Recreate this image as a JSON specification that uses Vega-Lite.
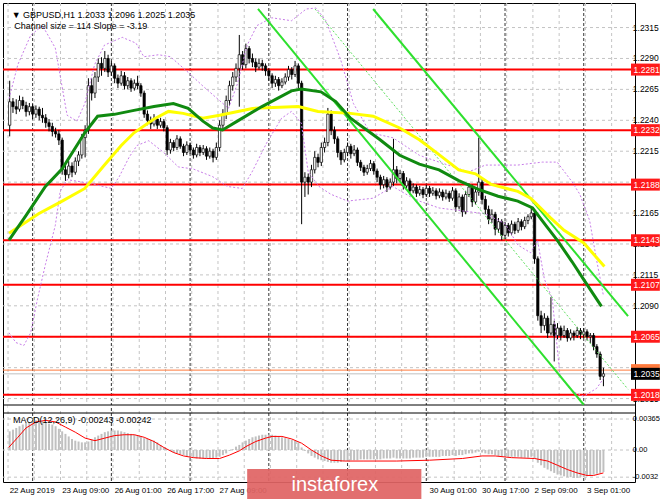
{
"$schema":"https://vega.github.io/schema/vega-lite/v6.json",
"padding":{"left":2,"top":2,"right":0,"bottom":0},
"background":"white",
"width":632,"height":479,
"config":{"font":"Liberation Sans","view":{"stroke":"#000","strokeWidth":1},"axis":{"labelFont":"Liberation Sans","labelFontSize":8,"labelColor":"#000","tickColor":"#000","domainColor":"#000","gridColor":"#c4c4c4","gridDash":[3,3],"gridWidth":1}},
"datasets":{
"vg":[{"i":-0.5},{"i":7.5},{"i":15.5},{"i":23.5},{"i":31.5},{"i":39.5},{"i":47.5},{"i":55.5},{"i":63.5},{"i":71.5},{"i":79.5},{"i":87.5},{"i":95.5},{"i":103.5},{"i":111.5},{"i":119.5},{"i":127.5},{"i":135.5},{"i":143.5},{"i":151.5},{"i":159.5},{"i":167.5},{"i":175.5},{"i":183.5}],
"ptk":[{"v":1.2015,"t":"1.2015"},{"v":1.204,"t":"1.2040"},{"v":1.2065,"t":"1.2065"},{"v":1.209,"t":"1.2090"},{"v":1.2115,"t":"1.2115"},{"v":1.214,"t":"1.2140"},{"v":1.2165,"t":"1.2165"},{"v":1.219,"t":"1.2190"},{"v":1.2215,"t":"1.2215"},{"v":1.224,"t":"1.2240"},{"v":1.2265,"t":"1.2265"},{"v":1.229,"t":"1.2290"},{"v":1.2315,"t":"1.2315"}],
"mtk":[{"v":0.00365,"t":"0.00365"},{"v":0,"t":"0.00"},{"v":-0.0032,"t":"-0.0032"}],
"days":[{"i":7},{"i":31},{"i":55},{"i":79},{"i":103},{"i":127},{"i":151},{"i":175}],
"levels":[{"v":1.2281},{"v":1.2232},{"v":1.2188},{"v":1.2143},{"v":1.2107},{"v":1.2065},{"v":1.2018}],
"candles":[
{"i":0,"o":1.2236,"h":1.2272,"l":1.2227,"c":1.2255,"m":0.0022},
{"i":1,"o":1.2255,"h":1.2258,"l":1.2246,"c":1.2251,"m":0.0024},
{"i":2,"o":1.2251,"h":1.2257,"l":1.2245,"c":1.2249,"m":0.0026},
{"i":3,"o":1.2249,"h":1.2260,"l":1.2247,"c":1.2256,"m":0.0028},
{"i":4,"o":1.2256,"h":1.2259,"l":1.2249,"c":1.2252,"m":0.0030},
{"i":5,"o":1.2252,"h":1.2255,"l":1.2243,"c":1.2247,"m":0.0032},
{"i":6,"o":1.2247,"h":1.2254,"l":1.2244,"c":1.2251,"m":0.0033},
{"i":7,"o":1.2251,"h":1.2253,"l":1.2241,"c":1.2245,"m":0.0034},
{"i":8,"o":1.2245,"h":1.2252,"l":1.2242,"c":1.2249,"m":0.0035},
{"i":9,"o":1.2249,"h":1.2251,"l":1.2240,"c":1.2244,"m":0.0035},
{"i":10,"o":1.2244,"h":1.2250,"l":1.2238,"c":1.2242,"m":0.0034},
{"i":11,"o":1.2242,"h":1.2245,"l":1.2234,"c":1.2238,"m":0.0033},
{"i":12,"o":1.2238,"h":1.2241,"l":1.2231,"c":1.2235,"m":0.0031},
{"i":13,"o":1.2235,"h":1.2238,"l":1.2227,"c":1.2231,"m":0.0030},
{"i":14,"o":1.2231,"h":1.2234,"l":1.2226,"c":1.2229,"m":0.0028},
{"i":15,"o":1.2229,"h":1.2232,"l":1.2220,"c":1.2224,"m":0.0025},
{"i":16,"o":1.2224,"h":1.2226,"l":1.2196,"c":1.2200,"m":0.0022},
{"i":17,"o":1.2200,"h":1.2205,"l":1.2191,"c":1.2196,"m":0.0019},
{"i":18,"o":1.2196,"h":1.2207,"l":1.2193,"c":1.2203,"m":0.0016},
{"i":19,"o":1.2203,"h":1.2206,"l":1.2194,"c":1.2198,"m":0.0013},
{"i":20,"o":1.2198,"h":1.2210,"l":1.2196,"c":1.2207,"m":0.0011},
{"i":21,"o":1.2207,"h":1.2215,"l":1.2203,"c":1.2212,"m":0.0010},
{"i":22,"o":1.2212,"h":1.2229,"l":1.2209,"c":1.2226,"m":0.0009},
{"i":23,"o":1.2226,"h":1.2236,"l":1.2210,"c":1.2232,"m":0.0009},
{"i":24,"o":1.2232,"h":1.2274,"l":1.2229,"c":1.2268,"m":0.0010},
{"i":25,"o":1.2268,"h":1.2274,"l":1.2256,"c":1.2262,"m":0.0012},
{"i":26,"o":1.2262,"h":1.2279,"l":1.2258,"c":1.2275,"m":0.0015},
{"i":27,"o":1.2275,"h":1.2290,"l":1.2271,"c":1.2286,"m":0.0017},
{"i":28,"o":1.2286,"h":1.2291,"l":1.2276,"c":1.2282,"m":0.0019},
{"i":29,"o":1.2282,"h":1.2296,"l":1.2279,"c":1.2290,"m":0.0021},
{"i":30,"o":1.2290,"h":1.2293,"l":1.2275,"c":1.2279,"m":0.0022},
{"i":31,"o":1.2279,"h":1.2288,"l":1.2276,"c":1.2284,"m":0.0023},
{"i":32,"o":1.2284,"h":1.2286,"l":1.2270,"c":1.2274,"m":0.0023},
{"i":33,"o":1.2274,"h":1.2277,"l":1.2266,"c":1.2270,"m":0.0023},
{"i":34,"o":1.2270,"h":1.2280,"l":1.2268,"c":1.2276,"m":0.0022},
{"i":35,"o":1.2276,"h":1.2279,"l":1.2265,"c":1.2268,"m":0.0021},
{"i":36,"o":1.2268,"h":1.2275,"l":1.2265,"c":1.2272,"m":0.0020},
{"i":37,"o":1.2272,"h":1.2274,"l":1.2263,"c":1.2266,"m":0.0019},
{"i":38,"o":1.2266,"h":1.2273,"l":1.2264,"c":1.2270,"m":0.0018},
{"i":39,"o":1.2270,"h":1.2276,"l":1.2265,"c":1.2268,"m":0.0017},
{"i":40,"o":1.2268,"h":1.2270,"l":1.2259,"c":1.2262,"m":0.0016},
{"i":41,"o":1.2262,"h":1.2264,"l":1.2242,"c":1.2245,"m":0.0014},
{"i":42,"o":1.2245,"h":1.2248,"l":1.2236,"c":1.2240,"m":0.0013},
{"i":43,"o":1.2240,"h":1.2243,"l":1.2233,"c":1.2237,"m":0.0012},
{"i":44,"o":1.2237,"h":1.2245,"l":1.2235,"c":1.2241,"m":0.0011},
{"i":45,"o":1.2241,"h":1.2243,"l":1.2233,"c":1.2236,"m":0.0009},
{"i":46,"o":1.2236,"h":1.2242,"l":1.2234,"c":1.2239,"m":0.0006},
{"i":47,"o":1.2239,"h":1.2241,"l":1.2231,"c":1.2234,"m":0.0003},
{"i":48,"o":1.2234,"h":1.2236,"l":1.2212,"c":1.2216,"m":0.0001},
{"i":49,"o":1.2216,"h":1.2225,"l":1.2213,"c":1.2222,"m":-0.0001},
{"i":50,"o":1.2222,"h":1.2224,"l":1.2215,"c":1.2218,"m":-0.0003},
{"i":51,"o":1.2218,"h":1.2228,"l":1.2216,"c":1.2225,"m":-0.0004},
{"i":52,"o":1.2225,"h":1.2227,"l":1.2217,"c":1.2219,"m":-0.0005},
{"i":53,"o":1.2219,"h":1.2221,"l":1.2211,"c":1.2214,"m":-0.0006},
{"i":54,"o":1.2214,"h":1.2223,"l":1.2212,"c":1.2220,"m":-0.0008},
{"i":55,"o":1.2220,"h":1.2222,"l":1.2213,"c":1.2216,"m":-0.0009},
{"i":56,"o":1.2216,"h":1.2218,"l":1.2209,"c":1.2212,"m":-0.0009},
{"i":57,"o":1.2212,"h":1.2221,"l":1.2210,"c":1.2218,"m":-0.0010},
{"i":58,"o":1.2218,"h":1.2220,"l":1.2211,"c":1.2214,"m":-0.0010},
{"i":59,"o":1.2214,"h":1.2220,"l":1.2212,"c":1.2217,"m":-0.0010},
{"i":60,"o":1.2217,"h":1.2219,"l":1.2208,"c":1.2211,"m":-0.0010},
{"i":61,"o":1.2211,"h":1.2218,"l":1.2209,"c":1.2215,"m":-0.0010},
{"i":62,"o":1.2215,"h":1.2217,"l":1.2206,"c":1.2210,"m":-0.0010},
{"i":63,"o":1.2210,"h":1.2222,"l":1.2208,"c":1.2218,"m":-0.0009},
{"i":64,"o":1.2218,"h":1.2240,"l":1.2215,"c":1.2236,"m":-0.0008},
{"i":65,"o":1.2236,"h":1.2249,"l":1.2232,"c":1.2245,"m":-0.0006},
{"i":66,"o":1.2245,"h":1.2260,"l":1.2241,"c":1.2256,"m":-0.0004},
{"i":67,"o":1.2256,"h":1.2272,"l":1.2252,"c":1.2268,"m":-0.0001},
{"i":68,"o":1.2268,"h":1.2279,"l":1.2264,"c":1.2275,"m":0.0001},
{"i":69,"o":1.2275,"h":1.2286,"l":1.2271,"c":1.2282,"m":0.0004},
{"i":70,"o":1.2282,"h":1.2309,"l":1.2251,"c":1.2293,"m":0.0006},
{"i":71,"o":1.2293,"h":1.2296,"l":1.2281,"c":1.2285,"m":0.0009},
{"i":72,"o":1.2285,"h":1.2302,"l":1.2282,"c":1.2298,"m":0.0011},
{"i":73,"o":1.2298,"h":1.2300,"l":1.2286,"c":1.2290,"m":0.0013},
{"i":74,"o":1.2290,"h":1.2294,"l":1.2283,"c":1.2287,"m":0.0015},
{"i":75,"o":1.2287,"h":1.2290,"l":1.2279,"c":1.2283,"m":0.0016},
{"i":76,"o":1.2283,"h":1.2290,"l":1.2281,"c":1.2286,"m":0.0017},
{"i":77,"o":1.2286,"h":1.2289,"l":1.2280,"c":1.2284,"m":0.0018},
{"i":78,"o":1.2284,"h":1.2286,"l":1.2276,"c":1.2280,"m":0.0018},
{"i":79,"o":1.2280,"h":1.2282,"l":1.2272,"c":1.2276,"m":0.0018},
{"i":80,"o":1.2276,"h":1.2278,"l":1.2266,"c":1.2270,"m":0.0018},
{"i":81,"o":1.2270,"h":1.2276,"l":1.2267,"c":1.2273,"m":0.0017},
{"i":82,"o":1.2273,"h":1.2275,"l":1.2264,"c":1.2268,"m":0.0016},
{"i":83,"o":1.2268,"h":1.2274,"l":1.2266,"c":1.2271,"m":0.0015},
{"i":84,"o":1.2271,"h":1.2278,"l":1.2269,"c":1.2275,"m":0.0014},
{"i":85,"o":1.2275,"h":1.2284,"l":1.2272,"c":1.2281,"m":0.0013},
{"i":86,"o":1.2281,"h":1.2283,"l":1.2273,"c":1.2277,"m":0.0012},
{"i":87,"o":1.2277,"h":1.2288,"l":1.2275,"c":1.2284,"m":0.0011},
{"i":88,"o":1.2284,"h":1.2286,"l":1.2266,"c":1.2270,"m":0.0009},
{"i":89,"o":1.2270,"h":1.2272,"l":1.2156,"c":1.2190,"m":0.0003},
{"i":90,"o":1.2190,"h":1.2198,"l":1.2178,"c":1.2194,"m":-0.0001},
{"i":91,"o":1.2194,"h":1.2197,"l":1.2180,"c":1.2190,"m":-0.0004},
{"i":92,"o":1.2190,"h":1.2204,"l":1.2186,"c":1.2200,"m":-0.0007},
{"i":93,"o":1.2200,"h":1.2215,"l":1.2197,"c":1.2210,"m":-0.0009},
{"i":94,"o":1.2210,"h":1.2213,"l":1.2202,"c":1.2206,"m":-0.0011},
{"i":95,"o":1.2206,"h":1.2222,"l":1.2203,"c":1.2218,"m":-0.0012},
{"i":96,"o":1.2218,"h":1.2226,"l":1.2214,"c":1.2222,"m":-0.0013},
{"i":97,"o":1.2222,"h":1.2250,"l":1.2219,"c":1.2245,"m":-0.0014},
{"i":98,"o":1.2245,"h":1.2248,"l":1.2228,"c":1.2232,"m":-0.0015},
{"i":99,"o":1.2232,"h":1.2235,"l":1.2221,"c":1.2225,"m":-0.0015},
{"i":100,"o":1.2225,"h":1.2227,"l":1.2210,"c":1.2214,"m":-0.0015},
{"i":101,"o":1.2214,"h":1.2216,"l":1.2204,"c":1.2208,"m":-0.0014},
{"i":102,"o":1.2208,"h":1.2217,"l":1.2206,"c":1.2214,"m":-0.0013},
{"i":103,"o":1.2214,"h":1.2222,"l":1.2211,"c":1.2219,"m":-0.0013},
{"i":104,"o":1.2219,"h":1.2221,"l":1.2209,"c":1.2213,"m":-0.0012},
{"i":105,"o":1.2213,"h":1.2220,"l":1.2211,"c":1.2216,"m":-0.0012},
{"i":106,"o":1.2216,"h":1.2218,"l":1.2203,"c":1.2206,"m":-0.0012},
{"i":107,"o":1.2206,"h":1.2208,"l":1.2199,"c":1.2202,"m":-0.0011},
{"i":108,"o":1.2202,"h":1.2204,"l":1.2195,"c":1.2198,"m":-0.0011},
{"i":109,"o":1.2198,"h":1.2204,"l":1.2196,"c":1.2201,"m":-0.0011},
{"i":110,"o":1.2201,"h":1.2208,"l":1.2199,"c":1.2205,"m":-0.0011},
{"i":111,"o":1.2205,"h":1.2207,"l":1.2196,"c":1.2199,"m":-0.0011},
{"i":112,"o":1.2199,"h":1.2201,"l":1.2190,"c":1.2194,"m":-0.0011},
{"i":113,"o":1.2194,"h":1.2196,"l":1.2184,"c":1.2188,"m":-0.0011},
{"i":114,"o":1.2188,"h":1.2195,"l":1.2185,"c":1.2192,"m":-0.0010},
{"i":115,"o":1.2192,"h":1.2194,"l":1.2182,"c":1.2186,"m":-0.0010},
{"i":116,"o":1.2186,"h":1.2193,"l":1.2184,"c":1.2190,"m":-0.0010},
{"i":117,"o":1.2190,"h":1.2225,"l":1.2187,"c":1.2200,"m":-0.0009},
{"i":118,"o":1.2200,"h":1.2203,"l":1.2189,"c":1.2193,"m":-0.0010},
{"i":119,"o":1.2193,"h":1.2200,"l":1.2191,"c":1.2197,"m":-0.0010},
{"i":120,"o":1.2197,"h":1.2199,"l":1.2184,"c":1.2187,"m":-0.0010},
{"i":121,"o":1.2187,"h":1.2194,"l":1.2185,"c":1.2191,"m":-0.0010},
{"i":122,"o":1.2191,"h":1.2193,"l":1.2180,"c":1.2183,"m":-0.0010},
{"i":123,"o":1.2183,"h":1.2189,"l":1.2181,"c":1.2186,"m":-0.0009},
{"i":124,"o":1.2186,"h":1.2188,"l":1.2178,"c":1.2181,"m":-0.0009},
{"i":125,"o":1.2181,"h":1.2187,"l":1.2179,"c":1.2184,"m":-0.0009},
{"i":126,"o":1.2184,"h":1.2186,"l":1.2177,"c":1.2180,"m":-0.0009},
{"i":127,"o":1.2180,"h":1.2188,"l":1.2178,"c":1.2185,"m":-0.0008},
{"i":128,"o":1.2185,"h":1.2187,"l":1.2178,"c":1.2181,"m":-0.0008},
{"i":129,"o":1.2181,"h":1.2186,"l":1.2179,"c":1.2183,"m":-0.0008},
{"i":130,"o":1.2183,"h":1.2185,"l":1.2176,"c":1.2179,"m":-0.0008},
{"i":131,"o":1.2179,"h":1.2185,"l":1.2177,"c":1.2182,"m":-0.0008},
{"i":132,"o":1.2182,"h":1.2184,"l":1.2175,"c":1.2178,"m":-0.0007},
{"i":133,"o":1.2178,"h":1.2184,"l":1.2176,"c":1.2181,"m":-0.0007},
{"i":134,"o":1.2181,"h":1.2183,"l":1.2174,"c":1.2177,"m":-0.0007},
{"i":135,"o":1.2177,"h":1.2186,"l":1.2175,"c":1.2183,"m":-0.0006},
{"i":136,"o":1.2183,"h":1.2185,"l":1.2166,"c":1.2170,"m":-0.0007},
{"i":137,"o":1.2170,"h":1.2181,"l":1.2168,"c":1.2178,"m":-0.0006},
{"i":138,"o":1.2178,"h":1.2180,"l":1.2162,"c":1.2166,"m":-0.0006},
{"i":139,"o":1.2166,"h":1.2183,"l":1.2164,"c":1.2180,"m":-0.0005},
{"i":140,"o":1.2180,"h":1.2189,"l":1.2178,"c":1.2186,"m":-0.0004},
{"i":141,"o":1.2186,"h":1.2188,"l":1.2170,"c":1.2174,"m":-0.0004},
{"i":142,"o":1.2174,"h":1.2185,"l":1.2172,"c":1.2182,"m":-0.0003},
{"i":143,"o":1.2182,"h":1.2226,"l":1.2179,"c":1.2190,"m":-0.0002},
{"i":144,"o":1.2190,"h":1.2193,"l":1.2172,"c":1.2176,"m":-0.0003},
{"i":145,"o":1.2176,"h":1.2179,"l":1.2164,"c":1.2168,"m":-0.0004},
{"i":146,"o":1.2168,"h":1.2171,"l":1.2156,"c":1.2160,"m":-0.0005},
{"i":147,"o":1.2160,"h":1.2168,"l":1.2157,"c":1.2164,"m":-0.0005},
{"i":148,"o":1.2164,"h":1.2166,"l":1.2147,"c":1.2152,"m":-0.0006},
{"i":149,"o":1.2152,"h":1.2161,"l":1.2149,"c":1.2158,"m":-0.0007},
{"i":150,"o":1.2158,"h":1.2160,"l":1.2143,"c":1.2147,"m":-0.0008},
{"i":151,"o":1.2147,"h":1.2158,"l":1.2144,"c":1.2155,"m":-0.0008},
{"i":152,"o":1.2155,"h":1.2157,"l":1.2146,"c":1.2149,"m":-0.0008},
{"i":153,"o":1.2149,"h":1.2159,"l":1.2147,"c":1.2156,"m":-0.0008},
{"i":154,"o":1.2156,"h":1.2158,"l":1.2148,"c":1.2151,"m":-0.0008},
{"i":155,"o":1.2151,"h":1.2161,"l":1.2149,"c":1.2158,"m":-0.0008},
{"i":156,"o":1.2158,"h":1.2160,"l":1.2151,"c":1.2154,"m":-0.0009},
{"i":157,"o":1.2154,"h":1.2162,"l":1.2152,"c":1.2159,"m":-0.0009},
{"i":158,"o":1.2159,"h":1.2164,"l":1.2156,"c":1.2162,"m":-0.0009},
{"i":159,"o":1.2162,"h":1.2170,"l":1.2160,"c":1.2165,"m":-0.0008},
{"i":160,"o":1.2165,"h":1.2167,"l":1.2124,"c":1.2128,"m":-0.0010},
{"i":161,"o":1.2128,"h":1.2130,"l":1.2078,"c":1.2082,"m":-0.0015},
{"i":162,"o":1.2082,"h":1.2086,"l":1.2068,"c":1.2074,"m":-0.0018},
{"i":163,"o":1.2074,"h":1.2084,"l":1.2070,"c":1.2080,"m":-0.0021},
{"i":164,"o":1.2080,"h":1.2082,"l":1.2064,"c":1.2068,"m":-0.0023},
{"i":165,"o":1.2068,"h":1.2097,"l":1.2066,"c":1.2075,"m":-0.0025},
{"i":166,"o":1.2075,"h":1.2078,"l":1.2045,"c":1.2066,"m":-0.0027},
{"i":167,"o":1.2066,"h":1.2076,"l":1.2063,"c":1.2072,"m":-0.0029},
{"i":168,"o":1.2072,"h":1.2074,"l":1.2062,"c":1.2066,"m":-0.0030},
{"i":169,"o":1.2066,"h":1.2074,"l":1.2064,"c":1.2070,"m":-0.0031},
{"i":170,"o":1.2070,"h":1.2072,"l":1.2061,"c":1.2064,"m":-0.0032},
{"i":171,"o":1.2064,"h":1.2071,"l":1.2062,"c":1.2068,"m":-0.0032},
{"i":172,"o":1.2068,"h":1.2070,"l":1.2062,"c":1.2066,"m":-0.0033},
{"i":173,"o":1.2066,"h":1.2073,"l":1.2064,"c":1.2070,"m":-0.0033},
{"i":174,"o":1.2070,"h":1.2072,"l":1.2063,"c":1.2067,"m":-0.0032},
{"i":175,"o":1.2067,"h":1.2072,"l":1.2064,"c":1.2069,"m":-0.0032},
{"i":176,"o":1.2069,"h":1.2071,"l":1.2062,"c":1.2065,"m":-0.0031},
{"i":177,"o":1.2065,"h":1.2068,"l":1.2060,"c":1.2066,"m":-0.0030},
{"i":178,"o":1.2066,"h":1.2068,"l":1.2054,"c":1.2057,"m":-0.0029},
{"i":179,"o":1.2057,"h":1.2059,"l":1.2048,"c":1.2051,"m":-0.0028},
{"i":180,"o":1.2051,"h":1.2053,"l":1.2030,"c":1.2033,"m":-0.0027},
{"i":181,"o":1.2033,"h":1.2040,"l":1.2025,"c":1.2035,"m":-0.0026}
],
"lines":[
{"k":"g","i":-0.2,"p":1.21431},{"k":"g","i":4.9,"p":1.21628},{"k":"g","i":10.9,"p":1.21865},{"k":"g","i":16.0,"p":1.22007},{"k":"g","i":22.9,"p":1.22299},{"k":"g","i":26.8,"p":1.22433},{"k":"g","i":31.9,"p":1.22448},{"k":"g","i":37.9,"p":1.22480},{"k":"g","i":44.0,"p":1.22511},{"k":"g","i":49.9,"p":1.22535},{"k":"g","i":54.4,"p":1.22496},{"k":"g","i":58.9,"p":1.22393},{"k":"g","i":61.9,"p":1.22338},{"k":"g","i":64.9,"p":1.22322},{"k":"g","i":69.4,"p":1.22393},{"k":"g","i":76.9,"p":1.22511},{"k":"g","i":85.9,"p":1.22638},{"k":"g","i":88.9,"p":1.22653},{"k":"g","i":94.9,"p":1.22630},{"k":"g","i":99.4,"p":1.22551},{"k":"g","i":103.9,"p":1.22417},{"k":"g","i":112.9,"p":1.22243},{"k":"g","i":118.9,"p":1.22117},{"k":"g","i":124.9,"p":1.22046},{"k":"g","i":130.9,"p":1.21999},{"k":"g","i":136.9,"p":1.21912},{"k":"g","i":142.9,"p":1.21841},{"k":"g","i":148.9,"p":1.21786},{"k":"g","i":154.9,"p":1.21747},{"k":"g","i":159.4,"p":1.21691},{"k":"g","i":163.9,"p":1.21534},{"k":"g","i":166.9,"p":1.21431},{"k":"g","i":171.4,"p":1.21258},{"k":"g","i":175.3,"p":1.21100},{"k":"g","i":180.4,"p":1.20895},
{"k":"y","i":-0.2,"p":1.21486},{"k":"y","i":8.8,"p":1.21644},{"k":"y","i":16.0,"p":1.21747},{"k":"y","i":22.9,"p":1.21849},{"k":"y","i":28.9,"p":1.22038},{"k":"y","i":34.0,"p":1.22196},{"k":"y","i":37.9,"p":1.22299},{"k":"y","i":43.9,"p":1.22409},{"k":"y","i":48.4,"p":1.22472},{"k":"y","i":52.9,"p":1.22456},{"k":"y","i":58.9,"p":1.22417},{"k":"y","i":64.0,"p":1.22441},{"k":"y","i":74.0,"p":1.22496},{"k":"y","i":88.0,"p":1.22512},{"k":"y","i":94.0,"p":1.22472},{"k":"y","i":103.9,"p":1.22456},{"k":"y","i":110.8,"p":1.22433},{"k":"y","i":118.9,"p":1.22338},{"k":"y","i":124.9,"p":1.22243},{"k":"y","i":130.0,"p":1.22141},{"k":"y","i":136.9,"p":1.21999},{"k":"y","i":142.0,"p":1.21967},{"k":"y","i":146.8,"p":1.21881},{"k":"y","i":154.9,"p":1.21825},{"k":"y","i":158.8,"p":1.21770},{"k":"y","i":164.8,"p":1.21613},{"k":"y","i":169.0,"p":1.21510},{"k":"y","i":175.0,"p":1.21408},{"k":"y","i":181.3,"p":1.21218},
{"k":"u","i":-0.2,"p":1.22575},{"k":"u","i":2.5,"p":1.22851},{"k":"u","i":6.4,"p":1.23087},{"k":"u","i":10.0,"p":1.23166},{"k":"u","i":13.9,"p":1.22985},{"k":"u","i":16.0,"p":1.22669},{"k":"u","i":17.5,"p":1.22441},{"k":"u","i":20.5,"p":1.22393},{"k":"u","i":22.9,"p":1.22535},{"k":"u","i":25.9,"p":1.22851},{"k":"u","i":28.9,"p":1.23008},{"k":"u","i":34.3,"p":1.23071},{"k":"u","i":38.5,"p":1.23024},{"k":"u","i":40.9,"p":1.22914},{"k":"u","i":45.4,"p":1.22930},{"k":"u","i":49.0,"p":1.22914},{"k":"u","i":54.4,"p":1.22788},{"k":"u","i":58.9,"p":1.22677},{"k":"u","i":64.0,"p":1.22559},{"k":"u","i":66.7,"p":1.22496},{"k":"u","i":69.4,"p":1.22693},{"k":"u","i":72.4,"p":1.23008},{"k":"u","i":75.4,"p":1.23166},{"k":"u","i":79.9,"p":1.23229},{"k":"u","i":85.9,"p":1.23205},{"k":"u","i":90.4,"p":1.23300},{"k":"u","i":93.4,"p":1.23308},{"k":"u","i":96.4,"p":1.23205},{"k":"u","i":100.9,"p":1.22890},{"k":"u","i":104.8,"p":1.22535},{"k":"u","i":109.9,"p":1.22299},{"k":"u","i":116.8,"p":1.22259},{"k":"u","i":124.9,"p":1.22117},{"k":"u","i":130.9,"p":1.22062},{"k":"u","i":139.9,"p":1.21983},{"k":"u","i":145.0,"p":1.22038},{"k":"u","i":154.9,"p":1.22038},{"k":"u","i":162.4,"p":1.22062},{"k":"u","i":166.9,"p":1.22062},{"k":"u","i":171.4,"p":1.21904},{"k":"u","i":173.8,"p":1.21802},{"k":"u","i":176.8,"p":1.21589},{"k":"u","i":178.9,"p":1.21273},{"k":"u","i":181.0,"p":1.20982},
{"k":"l","i":-0.2,"p":1.20682},{"k":"l","i":1.9,"p":1.20603},{"k":"l","i":4.3,"p":1.20579},{"k":"l","i":6.4,"p":1.20682},{"k":"l","i":8.5,"p":1.20958},{"k":"l","i":10.9,"p":1.21234},{"k":"l","i":13.9,"p":1.21549},{"k":"l","i":15.4,"p":1.21825},{"k":"l","i":17.5,"p":1.21920},{"k":"l","i":21.4,"p":1.21904},{"k":"l","i":25.9,"p":1.21881},{"k":"l","i":31.0,"p":1.21849},{"k":"l","i":33.4,"p":1.21944},{"k":"l","i":36.4,"p":1.22101},{"k":"l","i":38.8,"p":1.22196},{"k":"l","i":42.4,"p":1.22235},{"k":"l","i":46.9,"p":1.22141},{"k":"l","i":51.4,"p":1.22023},{"k":"l","i":55.9,"p":1.22007},{"k":"l","i":61.9,"p":1.21944},{"k":"l","i":66.4,"p":1.21865},{"k":"l","i":70.9,"p":1.21849},{"k":"l","i":73.9,"p":1.21983},{"k":"l","i":78.4,"p":1.22220},{"k":"l","i":82.9,"p":1.22417},{"k":"l","i":85.9,"p":1.22472},{"k":"l","i":88.9,"p":1.22378},{"k":"l","i":91.0,"p":1.21983},{"k":"l","i":94.3,"p":1.21865},{"k":"l","i":97.9,"p":1.21802},{"k":"l","i":103.0,"p":1.21747},{"k":"l","i":110.8,"p":1.21770},{"k":"l","i":116.8,"p":1.21865},{"k":"l","i":121.9,"p":1.21786},{"k":"l","i":124.9,"p":1.21747},{"k":"l","i":130.9,"p":1.21691},{"k":"l","i":145.0,"p":1.21644},{"k":"l","i":151.0,"p":1.21565},{"k":"l","i":154.9,"p":1.21392},{"k":"l","i":158.8,"p":1.21329},{"k":"l","i":160.9,"p":1.21431},{"k":"l","i":163.0,"p":1.21116},{"k":"l","i":165.4,"p":1.20958},{"k":"l","i":167.8,"p":1.20327},{"k":"l","i":171.4,"p":1.20209},{"k":"l","i":175.0,"p":1.20169},{"k":"l","i":178.9,"p":1.20232},{"k":"l","i":181.0,"p":1.20311}
],
"chan":[{"k":"A","i":75.7,"p":1.2330},{"k":"A","i":175.0,"p":1.2010},{"k":"B","i":110.8,"p":1.2330},{"k":"B","i":188.5,"p":1.20816}],
"chanmid":[{"k":"M","i":93.1,"p":1.2330},{"k":"M","i":188.5,"p":1.20225}],
"sig":[{"i":-0.3,"v":0.0003},{"i":2.5,"v":0.0015},{"i":5,"v":0.0026},{"i":8,"v":0.0033},{"i":11,"v":0.0035},{"i":14,"v":0.0033},{"i":17,"v":0.0027},{"i":20,"v":0.0021},{"i":23,"v":0.0014},{"i":26,"v":0.0011},{"i":29,"v":0.0014},{"i":32,"v":0.0017},{"i":35,"v":0.0018},{"i":38,"v":0.0018},{"i":41,"v":0.0015},{"i":44,"v":0.0010},{"i":47,"v":0.0003},{"i":50,"v":-0.0003},{"i":53,"v":-0.0007},{"i":56,"v":-0.0009},{"i":60,"v":-0.0010},{"i":64,"v":-0.0010},{"i":67,"v":-0.0006},{"i":70,"v":-0.0001},{"i":72,"v":0.0004},{"i":75,"v":0.0010},{"i":78,"v":0.0014},{"i":80,"v":0.0016},{"i":83,"v":0.0016},{"i":86,"v":0.0013},{"i":89,"v":0.0008},{"i":92,"v":0.0000},{"i":95,"v":-0.0007},{"i":98,"v":-0.0012},{"i":102,"v":-0.0013},{"i":108,"v":-0.0013},{"i":118,"v":-0.0013},{"i":128,"v":-0.0012},{"i":138,"v":-0.0010},{"i":144,"v":-0.0007},{"i":148,"v":-0.0007},{"i":153,"v":-0.0009},{"i":160,"v":-0.0010},{"i":164,"v":-0.0013},{"i":167,"v":-0.0018},{"i":170,"v":-0.0023},{"i":173,"v":-0.0027},{"i":176,"v":-0.0030},{"i":178,"v":-0.0030},{"i":181,"v":-0.0027}]
},
"layer":[
{"layer":[
{"data":{"name":"days"},"mark":{"type":"rule","color":"#333333","strokeDash":[3,2],"strokeWidth":1},
 "encoding":{"x":{"field":"i","type":"quantitative","title":null,"scale":{"domain":[-0.51,189.1],"nice":false,"zero":false},
  "axis":{"orient":"bottom","values":[-0.5,7.5,15.5,23.5,31.5,39.5,47.5,55.5,63.5,71.5,79.5,87.5,95.5,103.5,111.5,119.5,127.5,135.5,143.5,151.5,159.5,167.5,175.5,183.5],
   "labelExpr":"(round(datum.value+0.5) % 16 == 0) ? ['22 Aug 2019','23 Aug 09:00','26 Aug 01:00','26 Aug 17:00','27 Aug 09:00','28 Aug 01:00','28 Aug 17:00','29 Aug 09:00','30 Aug 01:00','30 Aug 17:00','2 Sep 09:00','3 Sep 01:00'][round((datum.value+0.5)/16)] : ''",
   "labelAlign":"left","labelPadding":2,"labelBound":false,"labelFlush":false,"labelOverlap":false,"tickSize":3,"domain":false,"grid":true}}}},
{"data":{"name":"vg"},"mark":{"type":"rule","color":"#c4c4c4","strokeDash":[3,3],"strokeWidth":1},
 "encoding":{"x":{"field":"i","type":"quantitative","axis":null,"title":null}}},
{"data":{"values":[{"a":1}]},"mark":{"type":"rect","color":"#ffffff"},
 "encoding":{"x":{"datum":-0.51,"type":"quantitative"},"x2":{"datum":189.1},"y":{"datum":1.20098,"type":"quantitative"},"y2":{"datum":1.20074}}},
{"data":{"values":[{"v":1.20098}]},"mark":{"type":"rule","color":"#000000","strokeWidth":1},
 "encoding":{"y":{"field":"v","type":"quantitative","title":null,"scale":{"domain":[1.20098,1.23308],"range":[407,0],"nice":false,"zero":false},
  "axis":{"orient":"right","values":[1.2015,1.204,1.2065,1.209,1.2115,1.214,1.2165,1.219,1.2215,1.224,1.2265,1.229,1.2315],"format":".4f","grid":true,"tickSize":3,"labelPadding":1,"domain":true,"labelOverlap":false,"labelBound":false}}}},
{"data":{"name":"ptk"},"mark":{"type":"rule","color":"#c4c4c4","strokeDash":[3,3],"strokeWidth":1},
 "encoding":{"y":{"field":"v","type":"quantitative","axis":null,"title":null}}},
{"data":{"name":"levels"},"mark":{"type":"rule","color":"#ff0000","strokeWidth":2},"encoding":{"y":{"field":"v","type":"quantitative","axis":null,"title":null}}},
{"data":{"values":[{"v":1.2038}]},"mark":{"type":"rule","color":"#ff7a3c","strokeWidth":1},"encoding":{"y":{"field":"v","type":"quantitative","axis":null,"title":null}}},
{"data":{"values":[{"v":1.2035}]},"mark":{"type":"rule","color":"#c0c0c0","strokeWidth":1},"encoding":{"y":{"field":"v","type":"quantitative","axis":null,"title":null}}},
{"data":{"name":"candles"},"mark":{"type":"rule","color":"#000000","strokeWidth":1},
 "encoding":{"x":{"field":"i","type":"quantitative","axis":null,"title":null},"y":{"field":"l","type":"quantitative","axis":null,"title":null},"y2":{"field":"h"}}},
{"data":{"name":"candles"},"mark":{"type":"bar","width":2.3,"stroke":"#000000","strokeWidth":0.7},
 "encoding":{"x":{"field":"i","type":"quantitative","axis":null,"title":null},"y":{"field":"o","type":"quantitative","axis":null,"title":null},"y2":{"field":"c"},
  "fill":{"condition":{"test":"datum.c >= datum.o","value":"#ffffff"},"value":"#000000"}}},
{"data":{"name":"lines"},"transform":[{"filter":"datum.k == 'u' || datum.k == 'l'"}],"mark":{"type":"line","color":"#c77de8","strokeWidth":1,"strokeDash":[2,2]},
 "encoding":{"x":{"field":"i","type":"quantitative","axis":null,"title":null},"y":{"field":"p","type":"quantitative","axis":null,"title":null},"detail":{"field":"k"}}},
{"data":{"name":"chan"},"mark":{"type":"line","color":"#2ee02e","strokeWidth":2},
 "encoding":{"x":{"field":"i","type":"quantitative","axis":null,"title":null},"y":{"field":"p","type":"quantitative","axis":null,"title":null},"detail":{"field":"k"}}},
{"data":{"name":"chanmid"},"mark":{"type":"line","color":"#5ee05e","strokeWidth":1,"strokeDash":[2,2]},
 "encoding":{"x":{"field":"i","type":"quantitative","axis":null,"title":null},"y":{"field":"p","type":"quantitative","axis":null,"title":null}}},
{"data":{"name":"lines"},"transform":[{"filter":"datum.k == 'y'"}],"mark":{"type":"line","color":"#ffff00","strokeWidth":3},
 "encoding":{"x":{"field":"i","type":"quantitative","axis":null,"title":null},"y":{"field":"p","type":"quantitative","axis":null,"title":null}}},
{"data":{"name":"lines"},"transform":[{"filter":"datum.k == 'g'"}],"mark":{"type":"line","color":"#108a10","strokeWidth":3},
 "encoding":{"x":{"field":"i","type":"quantitative","axis":null,"title":null},"y":{"field":"p","type":"quantitative","axis":null,"title":null}}},
{"data":{"name":"ptk"},"transform":[{"filter":"datum.t != '1.2190' && datum.t != '1.2065' && datum.t != '1.2040'"}],"mark":{"type":"text","color":"#000000","fontSize":8.5,"align":"left","baseline":"middle","clip":false},
 "encoding":{"x":{"datum":189.95,"type":"quantitative"},"y":{"field":"v","type":"quantitative","axis":null,"title":null},"text":{"field":"t"}}},
{"data":{"name":"levels"},"mark":{"type":"bar","height":12,"color":"#ff1a1a","clip":false},
 "encoding":{"x":{"datum":189.4,"type":"quantitative"},"x2":{"datum":198.2},"y":{"field":"v","type":"quantitative","axis":null,"title":null}}},
{"data":{"values":[{"v":1.2038}]},"mark":{"type":"bar","height":12,"color":"#ff7a3c","clip":false},
 "encoding":{"x":{"datum":189.4,"type":"quantitative"},"x2":{"datum":198.2},"y":{"field":"v","type":"quantitative","axis":null,"title":null}}},
{"data":{"values":[{"v":1.2035}]},"mark":{"type":"bar","height":12,"color":"#000000","clip":false},
 "encoding":{"x":{"datum":189.4,"type":"quantitative"},"x2":{"datum":198.2},"y":{"field":"v","type":"quantitative","axis":null,"title":null}}},
{"data":{"values":[{"v":1.2281},{"v":1.2232},{"v":1.2188},{"v":1.2143},{"v":1.2107},{"v":1.2065},{"v":1.2018},{"v":1.2035}]},"mark":{"type":"text","color":"#ffffff","fontSize":8.5,"align":"left","baseline":"middle","clip":false},
 "encoding":{"x":{"datum":190.2,"type":"quantitative"},"y":{"field":"v","type":"quantitative","axis":null,"title":null},"text":{"field":"v","type":"quantitative","format":".4f"}}},
{"data":{"values":[{"t":"▼  GBPUSD,H1  1.2033 1.2096 1.2025 1.2035","i":0.6,"p":1.23255},{"t":"Channel size = 114 Slope = -3.19","i":1.4,"p":1.23166}]},"mark":{"type":"text","color":"#000000","fontSize":9,"align":"left","baseline":"middle"},
 "encoding":{"x":{"field":"i","type":"quantitative","axis":null,"title":null},"y":{"field":"p","type":"quantitative","axis":null,"title":null},"text":{"field":"t"}}}
]},
{"layer":[
{"data":{"values":[{"v":0.00436}]},"mark":{"type":"rule","color":"#000000","strokeWidth":1},
 "encoding":{"y":{"field":"v","type":"quantitative","title":null,"scale":{"domain":[-0.00377,0.00436],"range":[479,410],"nice":false,"zero":false},
  "axis":{"orient":"right","values":[0.00365,0,-0.0032],"labelExpr":"datum.value > 0.003 ? '0.00365' : (datum.value < -0.003 ? '-0.0032' : '0.00')","labelFontSize":7.5,"grid":true,"tickSize":2,"labelPadding":1,"domain":true,"labelOverlap":false,"labelBound":false}}}},
{"data":{"name":"mtk"},"mark":{"type":"rule","color":"#c4c4c4","strokeDash":[3,3],"strokeWidth":1},
 "encoding":{"y":{"field":"v","type":"quantitative","axis":null,"title":null}}},
{"data":{"name":"candles"},"mark":{"type":"bar","width":2,"color":"#c0c0c0"},
 "encoding":{"x":{"field":"i","type":"quantitative","axis":null,"title":null},"y":{"field":"m","type":"quantitative","axis":null,"title":null},"y2":{"datum":0}}},
{"data":{"name":"sig"},"mark":{"type":"line","color":"#ff0000","strokeWidth":1},
 "encoding":{"x":{"field":"i","type":"quantitative","axis":null,"title":null},"y":{"field":"v","type":"quantitative","axis":null,"title":null}}},
{"data":{"name":"mtk"},"mark":{"type":"text","color":"#000000","fontSize":7.5,"align":"left","baseline":"middle","clip":false},
 "encoding":{"x":{"datum":189.95,"type":"quantitative"},"y":{"field":"v","type":"quantitative","axis":null,"title":null},"text":{"field":"t"}}},
{"data":{"values":[{"t":"22 Aug 2019"}]},"mark":{"type":"text","color":"#000000","fontSize":8,"align":"left","baseline":"middle","clip":false},"encoding":{"x":{"datum":0.0,"type":"quantitative"},"y":{"datum":-0.00485,"type":"quantitative"},"text":{"field":"t"}}},
{"data":{"values":[{"t":"23 Aug 09:00"}]},"mark":{"type":"text","color":"#000000","fontSize":8,"align":"left","baseline":"middle","clip":false},"encoding":{"x":{"datum":16.0,"type":"quantitative"},"y":{"datum":-0.00485,"type":"quantitative"},"text":{"field":"t"}}},
{"data":{"values":[{"t":"26 Aug 01:00"}]},"mark":{"type":"text","color":"#000000","fontSize":8,"align":"left","baseline":"middle","clip":false},"encoding":{"x":{"datum":32.0,"type":"quantitative"},"y":{"datum":-0.00485,"type":"quantitative"},"text":{"field":"t"}}},
{"data":{"values":[{"t":"26 Aug 17:00"}]},"mark":{"type":"text","color":"#000000","fontSize":8,"align":"left","baseline":"middle","clip":false},"encoding":{"x":{"datum":48.0,"type":"quantitative"},"y":{"datum":-0.00485,"type":"quantitative"},"text":{"field":"t"}}},
{"data":{"values":[{"t":"27 Aug 09:00"}]},"mark":{"type":"text","color":"#000000","fontSize":8,"align":"left","baseline":"middle","clip":false},"encoding":{"x":{"datum":64.0,"type":"quantitative"},"y":{"datum":-0.00485,"type":"quantitative"},"text":{"field":"t"}}},
{"data":{"values":[{"t":"30 Aug 01:00"}]},"mark":{"type":"text","color":"#000000","fontSize":8,"align":"left","baseline":"middle","clip":false},"encoding":{"x":{"datum":128.0,"type":"quantitative"},"y":{"datum":-0.00485,"type":"quantitative"},"text":{"field":"t"}}},
{"data":{"values":[{"t":"30 Aug 17:00"}]},"mark":{"type":"text","color":"#000000","fontSize":8,"align":"left","baseline":"middle","clip":false},"encoding":{"x":{"datum":144.0,"type":"quantitative"},"y":{"datum":-0.00485,"type":"quantitative"},"text":{"field":"t"}}},
{"data":{"values":[{"t":"2 Sep 09:00"}]},"mark":{"type":"text","color":"#000000","fontSize":8,"align":"left","baseline":"middle","clip":false},"encoding":{"x":{"datum":160.0,"type":"quantitative"},"y":{"datum":-0.00485,"type":"quantitative"},"text":{"field":"t"}}},
{"data":{"values":[{"t":"3 Sep 01:00"}]},"mark":{"type":"text","color":"#000000","fontSize":8,"align":"left","baseline":"middle","clip":false},"encoding":{"x":{"datum":176.0,"type":"quantitative"},"y":{"datum":-0.00485,"type":"quantitative"},"text":{"field":"t"}}},
{"data":{"values":[{"t":"MACD(12,26,9) -0.00243 -0.00242"}]},"mark":{"type":"text","color":"#000000","fontSize":9,"align":"left","baseline":"middle"},
 "encoding":{"x":{"datum":1.0,"type":"quantitative"},"y":{"datum":0.0035,"type":"quantitative"},"text":{"field":"t"}}},
{"data":{"values":[{"a":1}]},"mark":{"type":"rect","color":"#e06464","opacity":0.93,"clip":false},
 "encoding":{"x":{"datum":72.4,"type":"quantitative"},"x2":{"datum":125.5},"y":{"datum":-0.00224,"type":"quantitative"},"y2":{"datum":-0.00577}}},
{"data":{"values":[{"t":"instaforex"}]},"mark":{"type":"text","color":"#ffffff","fontSize":20,"align":"left","baseline":"middle","clip":false},
 "encoding":{"x":{"datum":85.9,"type":"quantitative"},"y":{"datum":-0.00412,"type":"quantitative"},"text":{"field":"t"}}}
]}
],
"resolve":{"scale":{"y":"independent"},"axis":{"y":"independent"}}
}
